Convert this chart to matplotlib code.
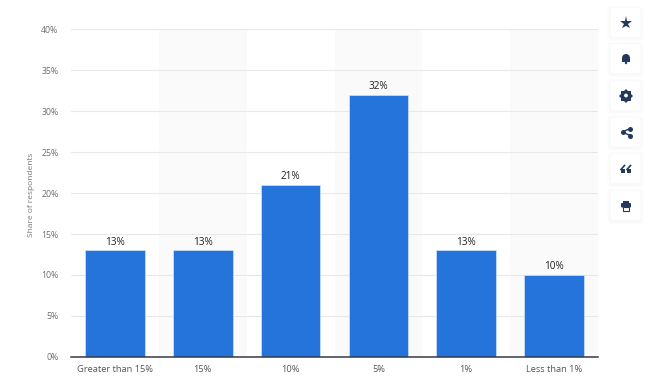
import matplotlib
matplotlib.use("Agg")
import matplotlib.pyplot as plt
from matplotlib.patches import FancyBboxPatch, Circle, Rectangle, Wedge

categories = ["Greater than 15%", "15%", "10%", "5%", "1%", "Less than 1%"]
shares = [13, 13, 21, 32, 13, 10]
yticks = [0, 5, 10, 15, 20, 25, 30, 35, 40]

W, H = 650, 391
plt.rcParams["font.family"] = ["Open Sans", "DejaVu Sans"]

fig = plt.figure(figsize=(W / 100, H / 100), dpi=100, facecolor="white")
ax = fig.add_axes([71 / W, 1 - 356.8 / H, 527 / W, 327.4 / H])

# alternating column bands behind the bars
for i in range(len(categories)):
    if i % 2 == 1:
        ax.axvspan(i - 0.5, i + 0.5, color="#fafafa", lw=0, zorder=0)

ax.bar(range(len(categories)), shares, width=0.68, color="#2574dc", edgecolor="#cfe3fa", lw=0.5, zorder=3)
for i, v in enumerate(shares):
    ax.text(i, v + 0.35, f"{v}%", ha="center", va="bottom", fontsize=7.2, color="#222222", zorder=4)

ax.set_xlim(-0.5, 5.5)
ax.set_ylim(0, 40)
ax.set_yticks(yticks)
ax.set_yticklabels([f"{t}%" for t in yticks], fontsize=6.3, color="#6f6f6f")
ax.set_xticks(range(len(categories)))
ax.set_xticklabels(categories, fontsize=6.7, color="#555555")
ax.tick_params(axis="both", length=0)
ax.tick_params(axis="y", pad=9)
ax.tick_params(axis="x", pad=6)
ax.grid(axis="y", color="#e8e8e8", lw=0.8, zorder=1)
ax.set_axisbelow(True)
for s in ["top", "left", "right"]:
    ax.spines[s].set_visible(False)
ax.spines["bottom"].set_color("#333a45")
ax.spines["bottom"].set_linewidth(1.1)
ax.spines["bottom"].set_zorder(5)
ax.set_ylabel("Share of respondents", fontsize=6, color="#777777")
ax.yaxis.set_label_coords((35 - 71) / 527, 0.495)

# toolbar on the right, drawn in pixel coordinates
ui = fig.add_axes([0, 0, 1, 1], facecolor="none")
ui.set_xlim(0, W)
ui.set_ylim(H, 0)
ui.axis("off")
navy = "#233a5e"
centers = [22.5, 58.5, 95.5, 132, 168.5, 205.5]
for cy in centers:
    for grow, col in [(3, "#fcfcfc"), (1.5, "#f9f9f9")]:
        ui.add_patch(FancyBboxPatch((610.5 - grow, cy - 14.5 - grow + 1), 30 + 2 * grow, 29 + 2 * grow,
                                    boxstyle="round,pad=0,rounding_size=4", fc=col, ec="none"))
    ui.add_patch(FancyBboxPatch((610.5, cy - 14.5), 30, 29, boxstyle="round,pad=0,rounding_size=3",
                                fc="white", ec="none"))

ui.plot(626, 22.5, marker="*", ms=9.5, color=navy, mew=0)
# bell
ui.add_patch(Wedge((626, 58), 4, 180, 360, fc=navy, ec="none"))
ui.add_patch(Rectangle((622, 58), 8, 3.5, fc=navy, ec="none"))
ui.add_patch(Circle((626, 63), 1.2, fc=navy, ec="none"))
# gear
ui.plot(626, 95.5, marker="s", ms=7, color=navy, mew=0)
ui.plot(626, 95.5, marker="D", ms=7, color=navy, mew=0)
ui.add_patch(Circle((626, 95.5), 1.9, fc="white", ec="none", zorder=5))
# share
ui.plot([630, 622.5, 630], [128.5, 132, 135.5], color=navy, lw=1)
ui.plot([630, 622.5, 630], [128.5, 132, 135.5], "o", ms=3.6, color=navy, mew=0)
# quote
for qx in [623, 629]:
    ui.add_patch(Rectangle((qx - 2, 169), 4, 3.5, fc=navy, ec="none"))
    ui.plot([qx - 2, qx + 1.5], [169.5, 165.5], color=navy, lw=1.2)
# printer
ui.add_patch(Rectangle((623, 200.5), 6, 3, fc=navy, ec="none"))
ui.add_patch(FancyBboxPatch((621, 203), 10, 4.5, boxstyle="round,pad=0,rounding_size=1", fc=navy, ec="none"))
ui.add_patch(Rectangle((623, 206.5), 6, 4, fc="white", ec=navy, lw=0.8))

fig.savefig("out.png", dpi=100)
